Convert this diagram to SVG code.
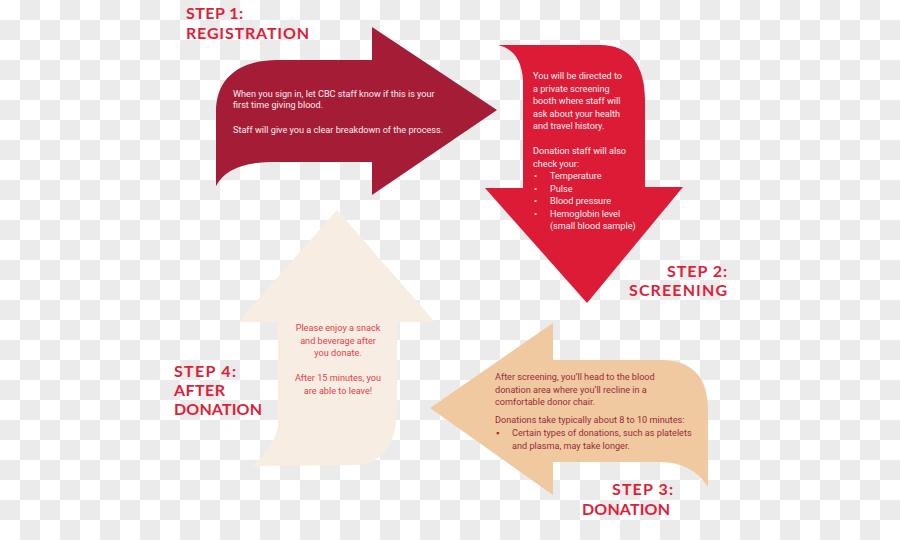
<svg xmlns="http://www.w3.org/2000/svg" width="900" height="540" viewBox="0 0 900 540">
<defs>
<pattern id="checker" width="40" height="40" patternUnits="userSpaceOnUse">
<rect width="40" height="40" fill="#ffffff"/>
<rect x="20" y="0" width="20" height="20" fill="#ebebeb"/>
<rect x="0" y="20" width="20" height="20" fill="#ebebeb"/>
</pattern>
</defs>
<style>
.label{font-family:Lato,"Liberation Sans",sans-serif;font-weight:bold;font-size:16px;fill:#dc1f3a}
.body{font-family:Roboto,"Liberation Sans",sans-serif;font-size:9.15px}
.w{fill:#fbeef0}
.t3{fill:#9b2a3a}
.t4{fill:#e0404a}
</style>
<rect width="900" height="540" fill="url(#checker)"/>
<g id="connectors"></g>
<g id="step1">
<path d="M216,112 C216,76 242,60 277,60 L372,60 L372,27 L497,110 L372,195 L372,162 L270,162 Q228,163 216,186 Z" fill="#a51c36"/>
<text class="label" x="186" y="18.5" textLength="57">STEP 1:</text>
<text class="label" x="186" y="38.5" textLength="123">REGISTRATION</text>
<text class="body w" x="233" y="97">When you sign in, let CBC staff know if this is your</text>
<text class="body w" x="233" y="108">first time giving blood.</text>
<text class="body w" x="233" y="133">Staff will give you a clear breakdown of the process.</text>
</g>
<g id="step2">
<path d="M498,45 L600,45 C630,45 645,65 645,100 L645,187 L683,187 L587,303 L485,188 L523,188 L523,80 Q521,50 498,45 Z" fill="#dc1c36"/>
<text class="label" x="727" y="277" text-anchor="end" textLength="60">STEP 2:</text>
<text class="label" x="727" y="296" text-anchor="end" textLength="98">SCREENING</text>
<text class="body w" x="533" y="79">You will be directed to</text>
<text class="body w" x="533" y="91.5">a private screening</text>
<text class="body w" x="533" y="104">booth where staff will</text>
<text class="body w" x="533" y="116.5">ask about your health</text>
<text class="body w" x="533" y="129">and travel history.</text>
<text class="body w" x="533" y="154">Donation staff will also</text>
<text class="body w" x="533" y="166.5">check your:</text>
<text class="body w" x="534" y="179">•</text><text class="body w" x="550" y="179">Temperature</text>
<text class="body w" x="534" y="191.5">•</text><text class="body w" x="550" y="191.5">Pulse</text>
<text class="body w" x="534" y="204">•</text><text class="body w" x="550" y="204">Blood pressure</text>
<text class="body w" x="534" y="216.5">•</text><text class="body w" x="550" y="216.5">Hemoglobin level</text>
<text class="body w" x="550" y="229">(small blood sample)</text>
</g>
<g id="step3">
<path d="M430,408 L553,323 L553,360 L660,360 C695,360 708,380 708,410 L708,487 Q692,462 660,462 L553,462 L553,495 Z" fill="#f0c9a0"/>
<text class="label" x="673" y="495" text-anchor="end" textLength="61">STEP 3:</text>
<text class="label" x="670" y="515" text-anchor="end" textLength="88">DONATION</text>
<text class="body t3" x="495" y="380">After screening, you’ll head to the blood</text>
<text class="body t3" x="495" y="392.5">donation area where you’ll recline in a</text>
<text class="body t3" x="495" y="405">comfortable donor chair.</text>
<text class="body t3" x="495" y="423">Donations take typically about 8 to 10 minutes:</text>
<text class="body t3" x="496" y="436">▪</text><text class="body t3" x="512" y="436">Certain types of donations, such as platelets</text>
<text class="body t3" x="512" y="448.5">and plasma, may take longer.</text>
</g>
<g id="step4">
<path d="M337,210 L435,322 L397,322 L397,410 C397,440 385,465 353,465 L252,466 Q272,450 278,428 L278,322 L238,322 Z" fill="#f8ede2"/>
<text class="label" x="174" y="377" textLength="62">STEP 4:</text>
<text class="label" x="174" y="396" textLength="51">AFTER</text>
<text class="label" x="174" y="415" textLength="88">DONATION</text>
<text class="body t4" x="338" y="331" text-anchor="middle">Please enjoy a snack</text>
<text class="body t4" x="338" y="343.5" text-anchor="middle">and beverage after</text>
<text class="body t4" x="338" y="356" text-anchor="middle">you donate.</text>
<text class="body t4" x="338" y="381" text-anchor="middle">After 15 minutes, you</text>
<text class="body t4" x="338" y="394" text-anchor="middle">are able to leave!</text>
</g>
</svg>
